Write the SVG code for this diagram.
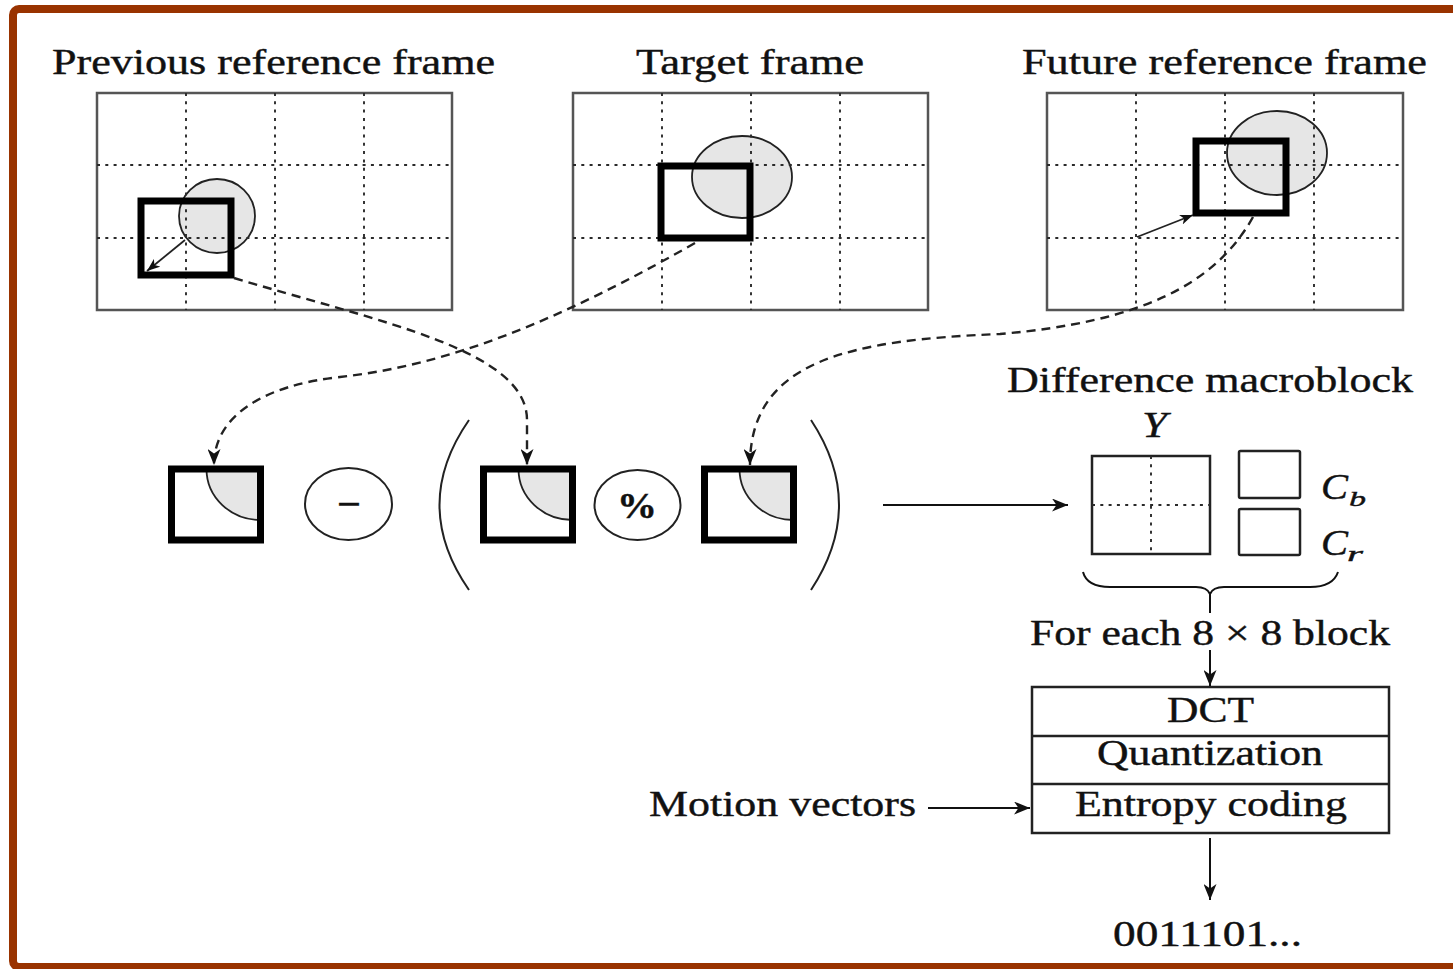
<svg xmlns="http://www.w3.org/2000/svg" width="1453" height="969" viewBox="0 0 1453 969">
<style>
  .border{fill:none;stroke:#993300;stroke-width:8}
  .t{font-family:"Liberation Serif","Times New Roman",serif;font-size:35px;fill:#111;stroke:#111;stroke-width:0.4}
  .it{font-style:italic}
  .frame{fill:none;stroke:#555;stroke-width:2.5}
  .grid{fill:none;stroke:#2a2a2a;stroke-width:1.9;stroke-dasharray:3 5.3}
  .mb{fill:none;stroke:#000;stroke-width:7}
  .blob{fill:#e6e6e6;stroke:#222;stroke-width:1.8}
  .thin{fill:none;stroke:#222;stroke-width:1.8}
  .dash{fill:none;stroke:#222;stroke-width:2.4;stroke-dasharray:9 6}
  .line{fill:none;stroke:#111;stroke-width:2}
  .box{fill:none;stroke:#222;stroke-width:2.5}
  .op{fill:#fff;stroke:#222;stroke-width:2}
  .paren{fill:none;stroke:#222;stroke-width:2}
</style>
<defs>
  <marker id="ah" markerUnits="userSpaceOnUse" markerWidth="17" markerHeight="13" refX="16" refY="6.5" orient="auto">
    <path d="M0,0 L16,6.5 L0,13 L4.5,6.5 Z" fill="#111"/>
  </marker>
  <marker id="ahs" markerUnits="userSpaceOnUse" markerWidth="14" markerHeight="10" refX="13" refY="5" orient="auto">
    <path d="M0,0 L13,5 L0,10 L3.5,5 Z" fill="#111"/>
  </marker>
  <path id="gridlines" class="grid" d="M89,0 V217 M178,0 V217 M267,0 V217 M0,72 H355 M0,145 H355"/>
  <g id="blk">
    <path class="blob" d="M35,0 A54 51 0 0 0 89 51 L89 0 Z"/>
    <rect class="mb" x="0" y="0" width="89" height="71"/>
  </g>
</defs>
<rect width="1453" height="969" fill="#fff"/>
<rect class="border" x="13" y="9" width="1450" height="958" rx="6"/>

<g id="prev-frame">
  <text class="t" x="52" y="74" textLength="443" lengthAdjust="spacingAndGlyphs">Previous reference frame</text>
  <rect class="frame" x="97" y="93" width="355" height="217"/>
  <ellipse class="blob" cx="217" cy="216" rx="38" ry="37"/>
  <use href="#gridlines" x="97" y="93"/>
  <rect class="mb" x="141" y="201" width="90" height="74"/>
  <line class="thin" x1="185" y1="240" x2="147" y2="271" marker-end="url(#ahs)"/>
</g>

<g id="target-frame">
  <text class="t" x="636" y="74" textLength="228" lengthAdjust="spacingAndGlyphs">Target frame</text>
  <rect class="frame" x="573" y="93" width="355" height="217"/>
  <ellipse class="blob" cx="742" cy="177" rx="50" ry="41"/>
  <use href="#gridlines" x="573" y="93"/>
  <rect class="mb" x="661" y="166" width="89" height="72"/>
</g>

<g id="future-frame">
  <text class="t" x="1022" y="74" textLength="405" lengthAdjust="spacingAndGlyphs">Future reference frame</text>
  <rect class="frame" x="1047" y="93" width="356" height="217"/>
  <ellipse class="blob" cx="1277" cy="153" rx="50" ry="42"/>
  <use href="#gridlines" x="1047" y="93"/>
  <rect class="mb" x="1196" y="141" width="90" height="72"/>
  <line class="thin" x1="1137" y1="237" x2="1193" y2="215" marker-end="url(#ahs)"/>
</g>

<g id="block-target">
  <use href="#blk" x="171.5" y="469"/>
</g>
<g id="op-minus">
  <ellipse class="op" cx="348.5" cy="504" rx="43.5" ry="36"/>
  <text class="t" x="337" y="516" textLength="24" lengthAdjust="spacingAndGlyphs" style="font-weight:bold">−</text>
</g>
<g id="paren-left">
  <path class="paren" d="M469,420 Q410,505 469,590"/>
</g>
<g id="block-prev">
  <use href="#blk" x="483.5" y="469"/>
</g>
<g id="op-percent">
  <ellipse class="op" cx="637.5" cy="505" rx="43" ry="35"/>
  <text class="t" x="617" y="518" textLength="40" lengthAdjust="spacingAndGlyphs" style="font-weight:bold">%</text>
</g>
<g id="block-future">
  <use href="#blk" x="704.5" y="469"/>
</g>
<g id="paren-right">
  <path class="paren" d="M811,420 Q867,505 811,590"/>
</g>

<g id="difference-macroblock">
  <text class="t" x="1007" y="392" textLength="406" lengthAdjust="spacingAndGlyphs">Difference macroblock</text>
  <text class="t it" x="1142" y="437" textLength="25" lengthAdjust="spacingAndGlyphs">Y</text>
  <rect class="box" x="1092" y="456" width="118" height="98"/>
  <path class="grid" d="M1151,456 V554 M1092,505 H1210"/>
  <rect class="box" x="1239" y="451" width="61" height="47" rx="1.5"/>
  <rect class="box" x="1239" y="509" width="61" height="46" rx="1.5"/>
  <text class="t it" x="1321" y="499" textLength="27" lengthAdjust="spacingAndGlyphs">C</text>
  <text class="t it" x="1349" y="506" style="font-size:22px" textLength="17" lengthAdjust="spacingAndGlyphs">b</text>
  <text class="t it" x="1321" y="555" textLength="27" lengthAdjust="spacingAndGlyphs">C</text>
  <text class="t it" x="1347" y="561" style="font-size:22px" textLength="16" lengthAdjust="spacingAndGlyphs">r</text>
  <path class="line" d="M1083,572 Q1087,587 1110,587 L1196,587 Q1207,587 1210,594 Q1213,587 1224,587 L1310,587 Q1333,587 1338,572"/>
  <text class="t" x="1030" y="645" textLength="360" lengthAdjust="spacingAndGlyphs">For each 8 × 8 block</text>
</g>

<g id="coding-box">
  <rect class="box" x="1032" y="687" width="357" height="146"/>
  <line class="box" x1="1032" y1="736" x2="1389" y2="736"/>
  <line class="box" x1="1032" y1="784" x2="1389" y2="784"/>
  <text class="t" x="1167" y="722" textLength="87" lengthAdjust="spacingAndGlyphs">DCT</text>
  <text class="t" x="1097" y="765" textLength="226" lengthAdjust="spacingAndGlyphs">Quantization</text>
  <text class="t" x="1075" y="816" textLength="272" lengthAdjust="spacingAndGlyphs">Entropy coding</text>
</g>

<g id="motion-vectors">
  <text class="t" x="649" y="816" textLength="267" lengthAdjust="spacingAndGlyphs">Motion vectors</text>
</g>

<g id="output">
  <text class="t" x="1113" y="946" textLength="189" lengthAdjust="spacingAndGlyphs">0011101...</text>
</g>

<g id="connectors">
  <path class="dash" d="M234,278 C380,322 527,350 527,420 L527,465" marker-end="url(#ah)"/>
  <path class="dash" d="M695,243 C560,320 450,365 340,377 C265,385 214,415 214,465" marker-end="url(#ah)"/>
  <path class="dash" d="M1253,217 C1215,285 1140,322 1000,334 C850,340 750,360 750,465" marker-end="url(#ah)"/>
  <line class="line" x1="883" y1="505" x2="1068" y2="505" marker-end="url(#ah)"/>
  <line class="line" x1="1210" y1="594" x2="1210" y2="613"/>
  <line class="line" x1="1210" y1="650" x2="1210" y2="686" marker-end="url(#ah)"/>
  <line class="line" x1="928" y1="808" x2="1030" y2="808" marker-end="url(#ah)"/>
  <line class="line" x1="1210" y1="838" x2="1210" y2="900" marker-end="url(#ah)"/>
</g>
</svg>
